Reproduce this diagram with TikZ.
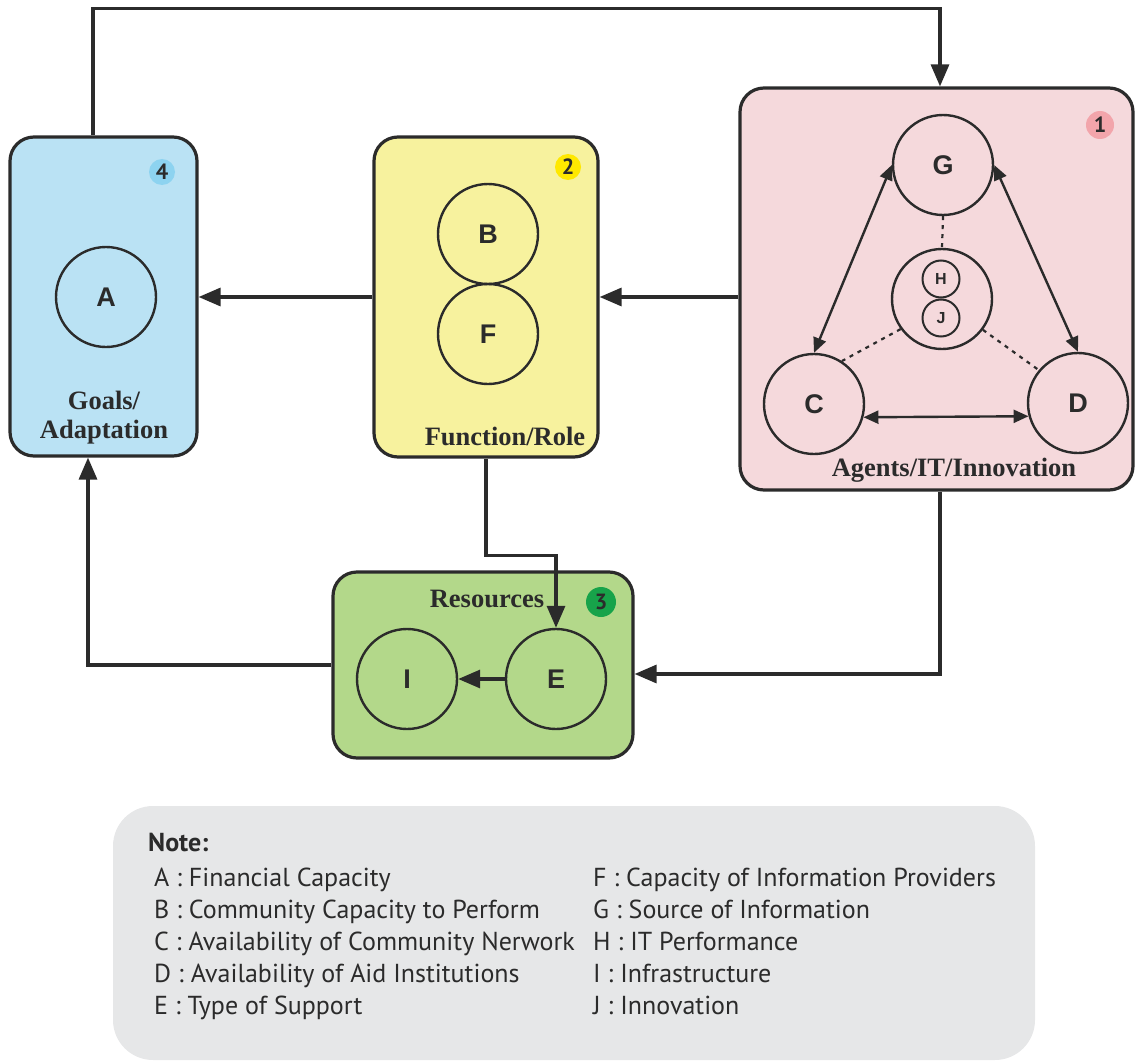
\documentclass[tikz,border=0pt]{standalone}
\usepackage{fontspec}
\setmainfont{Liberation Serif}
\setsansfont{Liberation Sans}
\newfontfamily\notefont{PT Sans}
\usetikzlibrary{arrows.meta}
\definecolor{ln}{HTML}{2B2B2B}
\definecolor{blueF}{HTML}{BAE2F4}
\definecolor{yellowF}{HTML}{F7F29E}
\definecolor{pinkF}{HTML}{F5D9DC}
\definecolor{greenF}{HTML}{B3D88A}
\definecolor{noteF}{HTML}{E6E7E8}
\definecolor{b1}{HTML}{F2A5AB}
\definecolor{b2}{HTML}{FFE800}
\definecolor{b3}{HTML}{17A34A}
\definecolor{b4}{HTML}{8DD3F0}
\begin{document}
\begin{tikzpicture}[x=1pt,y=-1pt,
  box/.style={draw=ln,line width=3.2pt,rounded corners=24pt},
  circ/.style={circle,draw=ln,line width=2.4pt,minimum size=100pt,inner sep=0pt,font=\sffamily\bfseries\fontsize{27}{27}\selectfont,text=ln},
  smallcirc/.style={circle,draw=ln,line width=2pt,minimum size=37pt,inner sep=0pt,font=\sffamily\bfseries\fontsize{16}{16}\selectfont,text=ln},
  badge/.style={circle,inner sep=0pt,font=\notefont\bfseries\fontsize{22}{22}\selectfont,text=ln},
  lbl/.style={font=\bfseries\fontsize{26.5}{29}\selectfont,text=ln,align=center,inner sep=0pt},
  arr/.style={draw=ln,line width=3.2pt,-{Triangle[length=22pt,width=18pt]}},
  dbl/.style={draw=ln,line width=2.4pt,{Triangle[length=15pt,width=13pt]}-{Triangle[length=15pt,width=13pt]}},
  dsh/.style={draw=ln,line width=2.2pt,dash pattern=on 4pt off 5pt},
  note/.style={font=\notefont\fontsize{26}{26}\selectfont,text=ln,anchor=base west,inner sep=0pt}
]
\useasboundingbox (0,0) rectangle (1135,1062);

% boxes
\node[box,fill=blueF,minimum width=187pt,minimum height=319pt] (blue) at (103.5,296.5) {};
\node[box,fill=yellowF,minimum width=224pt,minimum height=320pt] (yellow) at (486,297) {};
\node[box,fill=pinkF,minimum width=393pt,minimum height=402pt] (pink) at (936.5,289) {};
\node[box,fill=greenF,minimum width=300pt,minimum height=186pt] (green) at (483,665) {};
\node[fill=noteF,rounded corners=40pt,minimum width=922pt,minimum height=254pt] (notebox) at (574,933) {};

% badges
\node[badge,fill=b1,minimum size=28pt] (bd1) at (1100,125) {1};
\node[badge,fill=b2,minimum size=26pt] (bd2) at (568,167) {2};
\node[badge,fill=b3,minimum size=30pt] (bd3) at (601,602) {3};
\node[badge,fill=b4,minimum size=26pt] (bd4) at (162,172) {4};

% labels
\node[lbl] (lblA) at (104,418) {Goals/\\Adaptation};
\node[lbl] (lblB) at (505,436) {Function/Role};
\node[lbl] (lblC) at (954,470) {Agents/IT/Innovation};
\node[lbl] (lblD) at (487,599) {Resources};

% circles
\node[circ] (A) at (106,297) {A};
\node[circ] (B) at (488,234) {B};
\node[circ] (F) at (488,334) {F};
\node[circ] (G) at (943,165) {G};
\node[circ] (C) at (814,404) {C};
\node[circ] (D) at (1078,403) {D};
\node[circ] (HJ) at (942,299) {};
\node[smallcirc] (H) at (941,279) {H};
\node[smallcirc] (J) at (941,318) {J};
\node[circ] (I) at (407,679) {I};
\node[circ] (E) at (556,679) {E};

% inner connectors
\draw[dbl] (G.west) -- (C.north);
\draw[dbl] (G.east) -- (D.north);
\draw[dbl] (C.-15) -- (D.195);
\draw[dsh] (G.south) -- (HJ.north);
\draw[dsh] (HJ.216) -- (C.57);
\draw[dsh] (HJ.-37) -- (D.140);
\draw[arr] (E) -- (I);

% main connectors
\coordinate (gE) at ([yshift=-9pt]green.east);
\draw[arr] ([xshift=-10.5pt]blue.north) -- ++(0,-127) -| ([xshift=3.5pt]pink.north);
\draw[arr] (pink.west |- yellow.east) -- (yellow.east);
\draw[arr] (yellow.west) -- (blue.east |- yellow.west);
\draw[arr] (yellow.south) -- ++(0,97) -| (E.north);
\draw[arr] ([xshift=3.5pt]pink.south) |- (gE);
\draw[arr] (green.west) -| ([xshift=-15.5pt]blue.south);

% note
\node[note,font=\notefont\bfseries\fontsize{26}{26}\selectfont] (n0) at (148,851) {Note:};
\node[note] (nA) at (154,886) {A : Financial Capacity};
\node[note] (nB) at (154,918) {B : Community Capacity to Perform};
\node[note] (nC) at (154,950) {C : Availability of Community Nerwork};
\node[note] (nD) at (154,982) {D : Availability of Aid Institutions};
\node[note] (nE) at (154,1014) {E : Type of Support};
\node[note] (nF) at (593,886) {F : Capacity of Information Providers};
\node[note] (nG) at (593,918) {G : Source of Information};
\node[note] (nH) at (593,950) {H : IT Performance};
\node[note] (nI) at (593,982) {I : Infrastructure};
\node[note] (nJ) at (593,1014) {J : Innovation};
\end{tikzpicture}
\end{document}
